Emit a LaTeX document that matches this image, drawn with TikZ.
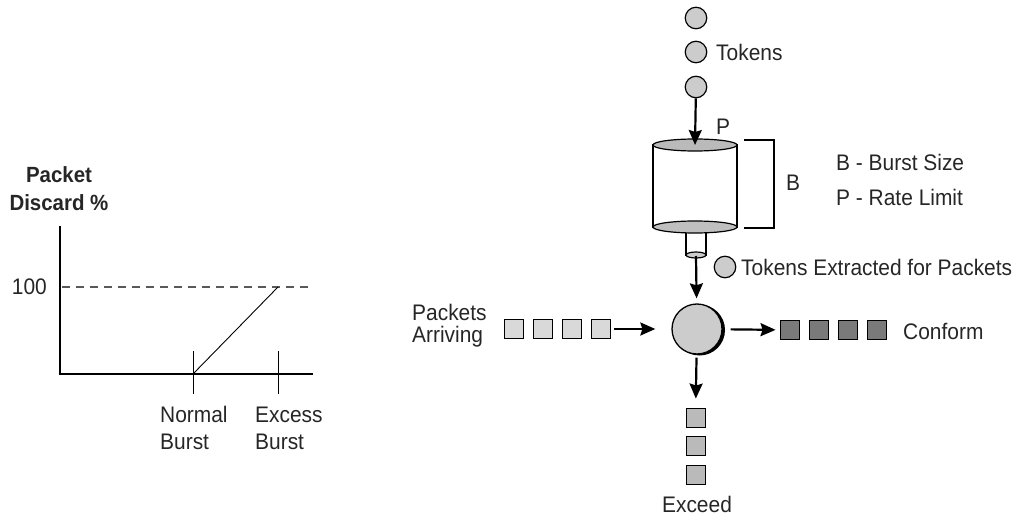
\documentclass[tikz,border=0pt]{standalone}
\usepackage{fontspec}
\setmainfont[FakeStretch=0.93]{Liberation Sans}
\usetikzlibrary{arrows.meta,shapes.geometric}
\begin{document}
\begin{tikzpicture}[x=1pt,y=-1pt,
 lbl/.style={font=\fontsize{22.5}{25}\selectfont, inner sep=0pt, text=black!85},
 tok/.style={circle, draw, line width=1.2pt, fill=black!20, minimum size=21.5pt, inner sep=0pt},
 arr/.style={line width=2.2pt, -{Stealth[length=15pt,width=13pt,inset=2pt]}},
 pk/.style={draw, line width=0.9pt, minimum size=19pt, inner sep=0pt},
 inpk/.style={pk, fill=black!15},
 outpk/.style={pk, fill=black!52},
 expk/.style={pk, fill=black!27},
 axis/.style={line width=2pt},
 thin/.style={line width=0.9pt},
]
\useasboundingbox (0,0) rectangle (1026,516);
% ---------- left graph ----------
\node[lbl, font=\fontsize{22}{28}\selectfont\bfseries, align=center] (ylab) at (59,189) {Packet\\Discard \%};
\coordinate (ytop) at (60,226);
\coordinate (orig) at (60,374);
\coordinate (xend) at (313,374);
\draw[axis] (ytop) -- (orig) -- (xend);
\node[lbl, anchor=east] (hundred) at (47,287) {100};
\coordinate (d0) at (62,287);
\coordinate (d1) at (310,287);
\draw[line width=2pt, black!65, dash pattern=on 8pt off 6pt] (d0) -- (d1);
\coordinate (nb) at (193,374);
\coordinate (eb) at (278,287);
\draw[thin] (nb) -- (eb);
\coordinate (nbt) at (193,351);
\coordinate (nbb) at (193,394);
\coordinate (ebt) at (278,351);
\coordinate (ebb) at (278,394);
\draw[thin] (nbt) -- (nbb);
\draw[thin] (ebt) -- (ebb);
\node[lbl, font=\fontsize{22.5}{27}\selectfont, align=left, anchor=west] (nbl) at (160,428) {Normal\\Burst};
\node[lbl, font=\fontsize{22.5}{27}\selectfont, align=left, anchor=west] (ebl) at (255,428) {Excess\\Burst};
% ---------- tokens ----------
\node[tok] (t1) at (696,18) {};
\node[tok] (t2) at (696,52) {};
\node[tok] (t3) at (696,87) {};
\node[lbl, anchor=west] (tokl) at (716,52) {Tokens};
% ---------- bucket ----------
\coordinate (cyltop) at (695,145);
\coordinate (cylbot) at (695,227);
\draw[line width=1.2pt, fill=white] (653,145) rectangle (737,227);
\draw[line width=1.2pt, fill=white] (686,227) rectangle (706,255);
\draw[line width=1.2pt, fill=black!20] (696,255) ellipse [x radius=10pt, y radius=3pt];
\draw[line width=1.2pt, fill=black!25] (cylbot) ellipse [x radius=42pt, y radius=6pt];
\draw[line width=1.2pt, fill=black!27] (cyltop) ellipse [x radius=42pt, y radius=6pt];
\coordinate (sp) at (696,256);
\draw[arr] (t3) -- (cyltop);
\node[lbl] (P) at (723,127) {P};
\draw[line width=2pt] (744,140) -- (774,140) -- (774,228) -- (744,228);
\node[lbl, anchor=west] (B) at (786,183) {B};
\node[lbl, anchor=west] (bleg) at (836,162) {B - Burst Size};
\node[lbl, anchor=west] (pleg) at (836,197) {P - Rate Limit};
% ---------- extracted tokens ----------
\node[tok] (te) at (725,267) {};
\node[lbl, anchor=west] (tel) at (741,267) {Tokens Extracted for Packets};
% ---------- policer ----------
\fill (699.5,330) circle (25.5pt);
\node[circle, draw, line width=1.3pt, fill=black!20, minimum size=50pt, inner sep=0pt] (pol) at (697,329) {};
\draw[arr, shorten >=5pt] (sp) -- (pol);
% incoming
\node[inpk] (i1) at (513.5,329) {};
\node[inpk] (i2) at (542.5,329) {};
\node[inpk] (i3) at (571.5,329) {};
\node[inpk] (i4) at (600.5,329) {};
\node[lbl, font=\fontsize{22.5}{22}\selectfont, align=left, anchor=west] (pal) at (412,326) {Packets\\Arriving};
\draw[arr, shorten <=4pt, shorten >=16pt] (i4) -- (pol);
% conform
\node[outpk] (c1) at (789.5,330) {};
\node[outpk] (c2) at (818.5,330) {};
\node[outpk] (c3) at (847.5,330) {};
\node[outpk] (c4) at (876.5,330) {};
\node[lbl, anchor=west] (conl) at (903,331) {Conform};
\draw[arr, shorten <=8pt, shorten >=4pt] (pol) -- (c1);
% exceed
\node[expk] (e1) at (695.5,417.5) {};
\node[expk] (e2) at (695.5,446) {};
\node[expk] (e3) at (695.5,475) {};
\node[lbl] (exl) at (697,504) {Exceed};
\draw[arr, shorten <=3pt, shorten >=9pt] (pol) -- (e1);
\end{tikzpicture}
\end{document}
